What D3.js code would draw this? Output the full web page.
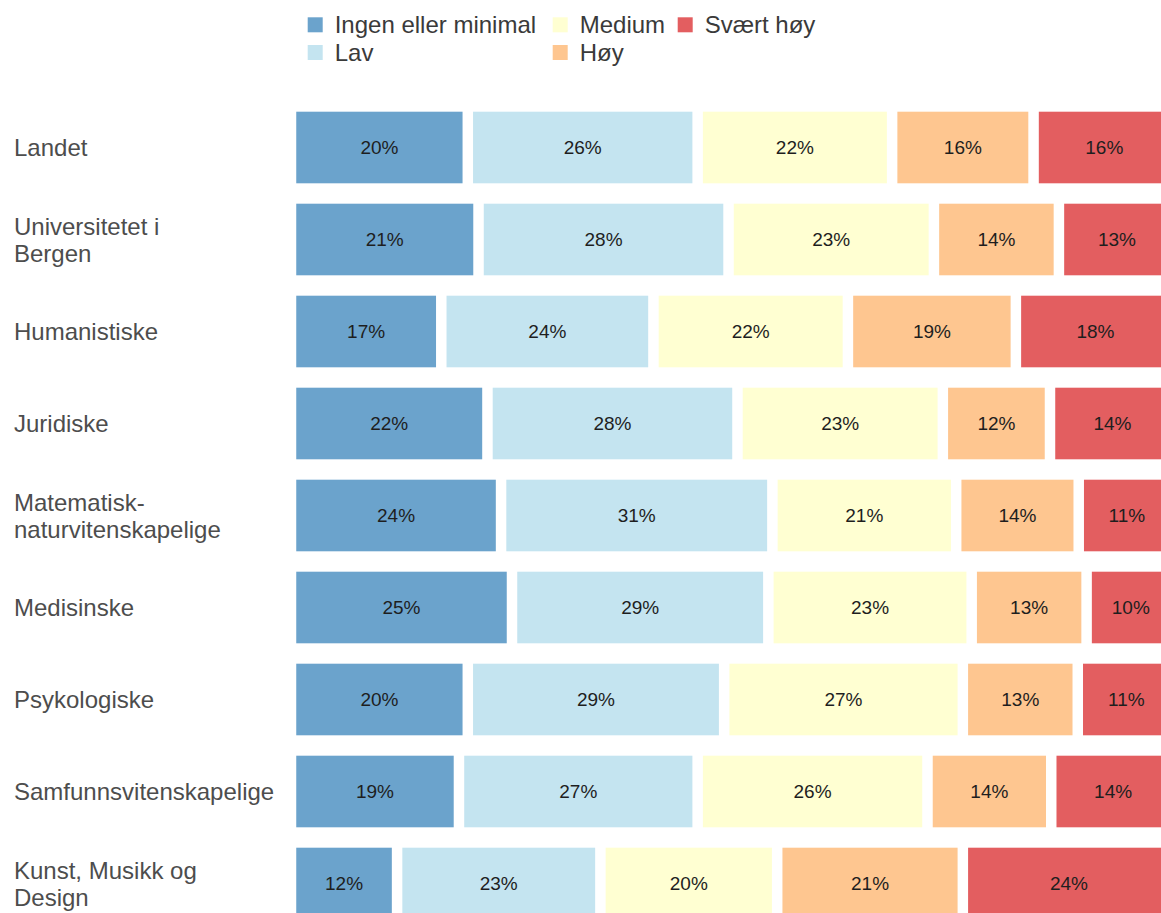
<!DOCTYPE html>
<html>
<head>
  <meta charset="utf-8">
  <script src="https://cdn.jsdelivr.net/npm/d3@7"></script>
  <style>
    body { margin: 0; background: #fff; }
    svg { display: block; font-family: "Liberation Sans", Arial, sans-serif; }
    .cat text { font-size: 24px; fill: #4d4d4d; }
    .legend text { font-size: 24px; fill: #3a3a3a; }
    .val { font-size: 19px; fill: #1e1e1e; }
  </style>
</head>
<body>
  <svg class="chart"></svg>
  <script>
    var categories = [
      'Landet',
      'Universitetet i\nBergen',
      'Humanistiske',
      'Juridiske',
      'Matematisk-\nnaturvitenskapelige',
      'Medisinske',
      'Psykologiske',
      'Samfunnsvitenskapelige',
      'Kunst, Musikk og\nDesign'
    ];
    var levels = ['Ingen eller minimal', 'Lav', 'Medium', 'Høy', 'Svært høy'];

    // percent per level, one entry per category (top to bottom)
    var ingen   = [20, 21, 17, 22, 24, 25, 20, 19, 12];
    var lav     = [26, 28, 24, 28, 31, 29, 29, 27, 23];
    var medium  = [22, 23, 22, 23, 21, 23, 27, 26, 20];
    var hoy     = [16, 14, 19, 12, 14, 13, 13, 14, 21];
    var svaert  = [16, 13, 18, 14, 11, 10, 11, 14, 24];

    var colors = ['#6ba3cc', '#c4e4f0', '#ffffd2', '#fec690', '#e35e60'];

    var W = 1161, H = 913;
    var gap = 10.5;
    var barH = 71.6;

    var series = [ingen, lav, medium, hoy, svaert];
    var rows = categories.map(function (c, i) {
      var r = { cat: c };
      levels.forEach(function (l, j) { r[l] = series[j][i]; });
      return r;
    });

    var stacked = d3.stack()
      .keys(levels)
      .offset(d3.stackOffsetExpand)(rows);

    var x = d3.scaleLinear().domain([0, 1]).range([291, 1175]);
    var y = d3.scaleBand().domain(categories).range([101.5, 101.5 + 92 * categories.length]).padding(0);
    var color = d3.scaleOrdinal().domain(levels).range(colors);

    var svg = d3.select('.chart').attr('width', W).attr('height', H);

    var layer = svg.selectAll('.layer')
      .data(stacked)
      .enter().append('g')
      .attr('class', 'layer')
      .attr('fill', function (d) { return color(d.key); });

    var inset = (y.bandwidth() - barH) / 2;

    layer.selectAll('rect')
      .data(function (d) { return d; })
      .enter().append('rect')
      .attr('x', function (d) { return x(d[0]) + gap / 2; })
      .attr('y', function (d) { return y(d.data.cat) + inset; })
      .attr('width', function (d) { return x(d[1]) - x(d[0]) - gap; })
      .attr('height', barH);

    layer.each(function (s) {
      d3.select(this).selectAll('text')
        .data(s)
        .enter().append('text')
        .attr('class', 'val')
        .attr('x', function (d) { return (x(d[0]) + x(d[1])) / 2; })
        .attr('y', function (d) { return y(d.data.cat) + y.bandwidth() / 2; })
        .attr('dy', '0.35em')
        .attr('text-anchor', 'middle')
        .text(function (d) { return d.data[s.key] + '%'; });
    });

    // category labels
    var cat = svg.append('g').attr('class', 'cat');
    categories.forEach(function (c) {
      var lines = c.split('\n');
      var cy = y(c) + y.bandwidth() / 2;
      var t = cat.append('text').attr('x', 14);
      lines.forEach(function (ln, k) {
        t.append('tspan')
          .attr('x', 14)
          .attr('y', cy + 8.8 + (k - (lines.length - 1) / 2) * 26.5)
          .text(ln);
      });
    });

    // legend, 2 rows filled column by column
    var legend = svg.append('g').attr('class', 'legend');
    var colX = [307.7, 552.7, 677.7];
    var nrow = 2;
    levels.forEach(function (l, i) {
      var cx = colX[Math.floor(i / nrow)];
      var top = 17.3 + (i % nrow) * 27.7;
      legend.append('rect')
        .attr('x', cx).attr('y', top)
        .attr('width', 15).attr('height', 15)
        .attr('fill', color(l));
      legend.append('text')
        .attr('x', cx + 27).attr('y', top + 16)
        .text(l);
    });
  </script>
</body>
</html>
